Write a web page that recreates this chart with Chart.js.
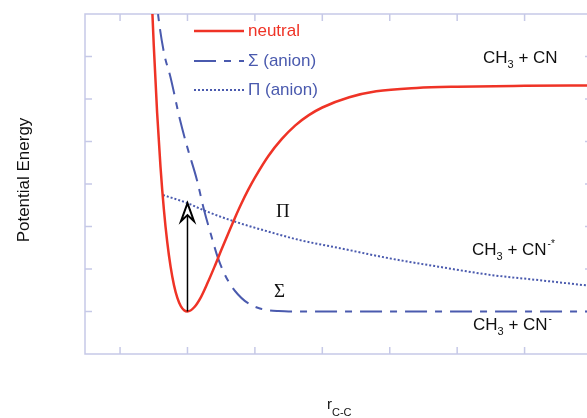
<!DOCTYPE html>
<html lang="en">
<head>
    <meta charset="UTF-8">
    <title>Potential energy curves</title>
    <script src="https://cdn.jsdelivr.net/npm/chart.js"></script>
    <style>
        html, body {
            margin: 0;
            padding: 0;
            overflow: hidden;
            background: #fff;
        }
        #wrap {
            width: 600px;
            height: 418px;
        }
    </style>
</head>
<body>
    <div id="wrap">
        <canvas id="pes" width="600" height="418"></canvas>
    </div>

    <script>
        // values (x = r C-C, y = energy, arbitrary units)
        const xTicks = [1, 2, 3, 4, 5, 6, 7];
        const yTicks = [1, 2, 3, 4, 5, 6, 7];

        const neutralX = [1.45, 1.475, 1.5, 1.55, 1.6, 1.65, 1.7, 1.75, 1.8, 1.85, 1.9, 1.95, 2.0, 2.1, 2.2, 2.3, 2.4, 2.5, 2.6, 2.7, 2.8, 2.9, 3.0, 3.2, 3.4, 3.6, 3.8, 4.0, 4.4, 4.8, 5.4, 6.0, 7.0, 8.0];
        const neutralY = [9.23, 8.19, 7.26, 5.67, 4.40, 3.40, 2.63, 2.05, 1.62, 1.32, 1.13, 1.03, 1.0, 1.10, 1.34, 1.68, 2.05, 2.44, 2.82, 3.19, 3.54, 3.86, 4.15, 4.66, 5.06, 5.38, 5.62, 5.80, 6.04, 6.18, 6.26, 6.29, 6.31, 6.32];

        const sigmaX = [1.52, 1.563, 1.65, 1.75, 1.889, 2.0, 2.141, 2.244, 2.35, 2.452, 2.55, 2.659, 2.75, 2.85, 2.95, 3.074, 3.2, 3.35, 3.5, 8.0];
        const sigmaY = [8.7, 8.0, 7.1, 6.5, 5.51, 4.85, 4.09, 3.4, 2.8, 2.26, 1.88, 1.58, 1.4, 1.25, 1.15, 1.07, 1.03, 1.01, 1.0, 1.0];

        const piX = [1.637, 2.0, 2.244, 2.674, 3.2, 3.667, 4.26, 5.0, 5.74, 6.5, 7.2, 8.0];
        const piY = [3.74, 3.55, 3.38, 3.13, 2.88, 2.68, 2.49, 2.25, 2.05, 1.86, 1.74, 1.6];

        // vertical excitation arrow
        const arrowX = 2.0;
        const arrowFrom = 1.0;
        const arrowTo = 3.55;

        const red = '#ef3326';
        const blue = '#4a5aae';
        const frame = '#c6c9e7';
        const sigmaDash = [22, 8, 7, 8];
        const piDash = [2, 2];

        function pts(xs, ys) {
            return xs.map(function (x, i) { return { x: x, y: ys[i] }; });
        }

        // sub/superscript text helper for "CH3 + CN..."
        function chem(ctx, x, base, sup) {
            ctx.fillStyle = '#111';
            ctx.textBaseline = 'alphabetic';
            ctx.textAlign = 'left';
            ctx.font = '17px "Liberation Sans", Arial, sans-serif';
            ctx.fillText('CH', x, base);
            x += ctx.measureText('CH').width;
            ctx.font = '11px "Liberation Sans", Arial, sans-serif';
            ctx.fillText('3', x, base + 5);
            x += ctx.measureText('3').width;
            ctx.font = '17px "Liberation Sans", Arial, sans-serif';
            ctx.fillText(' + CN', x, base);
            x += ctx.measureText(' + CN').width;
            if (sup) {
                ctx.font = '10px "Liberation Sans", Arial, sans-serif';
                ctx.fillText(sup, x + 1, base - 8);
            }
        }

        const decor = {
            id: 'decor',
            beforeDatasetsDraw(chart) {
                const ctx = chart.ctx;
                const a = chart.chartArea;
                const sx = chart.scales.x, sy = chart.scales.y;
                ctx.save();
                ctx.strokeStyle = frame;
                ctx.lineWidth = 1.5;
                ctx.strokeRect(a.left, a.top, a.right - a.left, a.bottom - a.top);
                ctx.beginPath();
                xTicks.forEach(function (t) {
                    const p = sx.getPixelForValue(t);
                    ctx.moveTo(p, a.bottom); ctx.lineTo(p, a.bottom - 7);
                    ctx.moveTo(p, a.top); ctx.lineTo(p, a.top + 7);
                });
                yTicks.forEach(function (t) {
                    const p = sy.getPixelForValue(t);
                    ctx.moveTo(a.left, p); ctx.lineTo(a.left + 7, p);
                    ctx.moveTo(a.right, p); ctx.lineTo(a.right - 7, p);
                });
                ctx.stroke();
                ctx.restore();
            },
            afterDatasetsDraw(chart) {
                const ctx = chart.ctx;
                const sx = chart.scales.x, sy = chart.scales.y;
                ctx.save();

                // arrow
                const ax = sx.getPixelForValue(arrowX);
                const y0 = sy.getPixelForValue(arrowFrom);
                const y1 = sy.getPixelForValue(arrowTo);
                ctx.strokeStyle = '#000';
                ctx.lineWidth = 1.5;
                ctx.beginPath();
                ctx.moveTo(ax, y0);
                ctx.lineTo(ax, y1 + 12);
                ctx.stroke();
                ctx.lineWidth = 2;
                ctx.lineJoin = 'miter';
                ctx.fillStyle = '#fff';
                ctx.beginPath();
                ctx.moveTo(ax, y1);
                ctx.lineTo(ax + 6.5, y1 + 18);
                ctx.lineTo(ax, y1 + 12);
                ctx.lineTo(ax - 6.5, y1 + 18);
                ctx.closePath();
                ctx.fill();
                ctx.stroke();

                // state labels
                ctx.fillStyle = '#111';
                ctx.font = '19px "Liberation Serif", "Times New Roman", serif';
                ctx.textAlign = 'left';
                ctx.textBaseline = 'middle';
                ctx.fillText('\u03A0', 276, 212);
                ctx.fillText('\u03A3', 274, 292);

                chem(ctx, 483, 63, '');
                chem(ctx, 472, 255, '-*');
                chem(ctx, 473, 330, '-');

                // legend
                const rows = [
                    { label: 'neutral', color: red, dash: [], width: 2.5, y: 31 },
                    { label: '\u03A3 (anion)', color: blue, dash: sigmaDash, width: 2, y: 61 },
                    { label: '\u03A0 (anion)', color: blue, dash: piDash, width: 2, y: 90 }
                ];
                rows.forEach(function (r) {
                    ctx.strokeStyle = r.color;
                    ctx.lineWidth = r.width;
                    ctx.setLineDash(r.dash);
                    ctx.beginPath();
                    ctx.moveTo(194, r.y);
                    ctx.lineTo(244, r.y);
                    ctx.stroke();
                    ctx.setLineDash([]);
                    ctx.fillStyle = r.color;
                    ctx.font = '17px "Liberation Sans", Arial, sans-serif';
                    ctx.textBaseline = 'middle';
                    ctx.fillText(r.label, 248, r.y);
                });

                // axis titles
                ctx.fillStyle = '#111';
                ctx.font = '15px "Liberation Sans", Arial, sans-serif';
                ctx.textBaseline = 'alphabetic';
                ctx.fillText('r', 327, 409);
                ctx.font = '11px "Liberation Sans", Arial, sans-serif';
                ctx.fillText('C-C', 332, 416);

                ctx.translate(29, 180);
                ctx.rotate(-Math.PI / 2);
                ctx.textAlign = 'center';
                ctx.font = '17px "Liberation Sans", Arial, sans-serif';
                ctx.fillText('Potential Energy', 0, 0);
                ctx.restore();
            }
        };

        new Chart(document.getElementById('pes'), {
            type: 'scatter',
            data: {
                datasets: [
                    {
                        label: 'neutral',
                        data: pts(neutralX, neutralY),
                        showLine: true,
                        borderColor: red,
                        borderWidth: 2.5,
                        pointRadius: 0,
                        cubicInterpolationMode: 'monotone'
                    },
                    {
                        label: '\u03A3 (anion)',
                        data: pts(sigmaX, sigmaY),
                        showLine: true,
                        borderColor: blue,
                        borderWidth: 2,
                        borderDash: sigmaDash,
                        pointRadius: 0,
                        cubicInterpolationMode: 'monotone'
                    },
                    {
                        label: '\u03A0 (anion)',
                        data: pts(piX, piY),
                        showLine: true,
                        borderColor: blue,
                        borderWidth: 2,
                        borderDash: piDash,
                        pointRadius: 0,
                        cubicInterpolationMode: 'monotone'
                    }
                ]
            },
            options: {
                responsive: false,
                animation: false,
                devicePixelRatio: 1,
                layout: { padding: { left: 85, top: 14, right: 8, bottom: 64 } },
                plugins: {
                    legend: { display: false },
                    tooltip: { enabled: false }
                },
                scales: {
                    x: { type: 'linear', min: 0.48, max: 8.0, display: false },
                    y: { type: 'linear', min: 0, max: 8, display: false }
                }
            },
            plugins: [decor]
        });
    </script>
</body>
</html>
